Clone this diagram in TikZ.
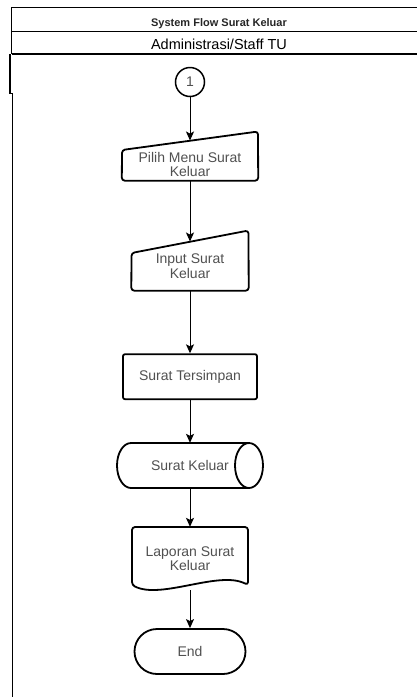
\documentclass[tikz,border=0pt]{standalone}
\usepackage{fontspec}
\setmainfont{Liberation Sans}
\usetikzlibrary{arrows.meta,calc}
\definecolor{txtgrey}{HTML}{505050}
\begin{document}
\begin{tikzpicture}[x=1pt,y=-1pt,
  outline/.style={draw=black,line width=1.8pt,line join=round},
  label text/.style={text=txtgrey,font=\fontsize{14}{14.5}\selectfont,align=center,inner sep=0pt},
  anchorbox/.style={inner sep=0pt,draw=none},
  flow/.style={draw=black,line width=1pt,-{Stealth[length=9pt,width=8pt,inset=2pt]}},
]
\useasboundingbox (0,0) rectangle (417,697);

% swimlane header and frame
\draw[line width=1.5pt] (11.5,7.5) -- (417,7.5);
\draw[line width=1pt] (11.5,31.5) -- (417,31.5);
\draw[line width=2pt] (11.5,54) -- (417,54);
\draw[line width=1pt] (11.5,7) -- (11.5,54);
\draw[line width=2pt] (10,54) -- (10,93);
\draw[line width=1pt] (9,93) -- (12,93) -- (12,697);

\node[font=\bfseries\fontsize{11}{12}\selectfont, text=black!85, anchor=base] (title) at (219,26.5) {System Flow Surat Keluar};
\node[font=\fontsize{14.5}{16}\selectfont, anchor=base] (lane) at (219,49.3) {Administrasi/Staff TU};

% connector
\node[circle,draw,line width=1.5pt,minimum size=29pt,inner sep=0pt,text=txtgrey,font=\fontsize{14}{14}\selectfont] (c1) at (190,82) {1};

% manual input: menu selection
\node[anchorbox,minimum width=136pt,minimum height=39.75pt] (pilih) at (190,160.6) {};
\draw[outline,rounded corners=3pt] (pilih.south) -- (pilih.south west) -- (122,150) -- (258,131.5) -- (pilih.south east) -- cycle;
\node[label text] (pilihT) at (190,164.5) {Pilih Menu Surat\\Keluar};

% manual input: letter data
\node[anchorbox,label text,minimum width=117pt,minimum height=48.75pt] (input) at (190,266.1) {Input Surat\\Keluar};
\draw[outline,rounded corners=3pt] (input.south) -- (input.south west) -- (131.5,253) -- (248.5,230.5) -- (input.south east) -- cycle;

% process
\node[outline,label text,rounded corners=2pt,minimum width=134pt,minimum height=45pt] (store) at (190,376.7) {Surat Tersimpan};

% stored data (horizontal cylinder)
\node[anchorbox,label text,minimum width=146pt,minimum height=45pt] (db) at (190,465.5) {Surat Keluar};
\draw[outline] (249,443) -- (131,443) arc[start angle=90,end angle=270,x radius=14pt,y radius=22.5pt] -- (249,488);
\draw[outline] (249,465.5) ellipse [x radius=14pt,y radius=22.5pt];

% document
\node[anchorbox,label text,minimum width=116pt,minimum height=63pt] (doc) at (190,558.5) {Laporan Surat\\Keluar};
\draw[outline,rounded corners=3pt] (190,527) -- (248,527) -- (248,585) .. controls (219,570) and (161,600) .. (132,585) -- (132,527) -- cycle;

% terminator
\node[outline,label text,rounded corners=22.5pt,minimum width=111pt,minimum height=45pt] (end) at (190,651.5) {End};

% flow
\draw[flow] (c1.south) -- (pilih.north);
\draw[flow] (pilih.south) -- (input.north);
\draw[flow] (input.south) -- (store.north);
\draw[flow] (store.south) -- (db.north);
\draw[flow] (db.south) -- (doc.north);
\draw[flow] (doc.south) -- (end.north);
\end{tikzpicture}
\end{document}
